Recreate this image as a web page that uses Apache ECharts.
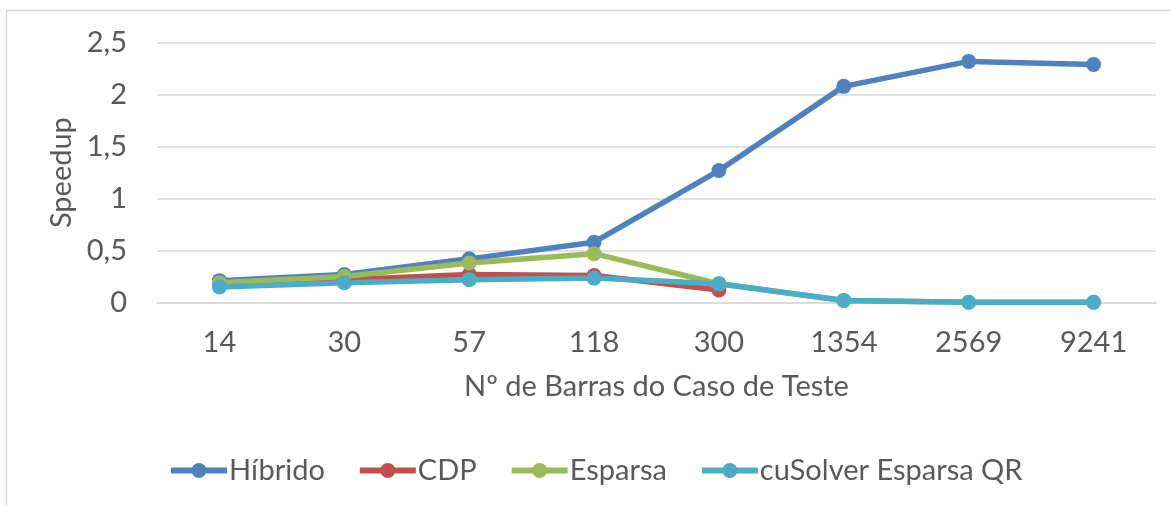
<!DOCTYPE html>
<html>
<head>
<meta charset="utf-8">
<script src="https://cdn.jsdelivr.net/npm/echarts@6/dist/echarts.min.js"></script>
<style>
html,body{margin:0;padding:0;background:#fff;}
#chart{width:1170px;height:506px;}
</style>
</head>
<body>
<div id="chart"></div>
<script>
const categories = ['14', '30', '57', '118', '300', '1354', '2569', '9241'];
const hibrido = [0.21, 0.27, 0.42, 0.58, 1.27, 2.08, 2.32, 2.29];
const cdp = [0.18, 0.22, 0.27, 0.26, 0.12, null, null, null];
const esparsa = [0.19, 0.25, 0.38, 0.47, 0.18, 0.02, 0.003, 0.002];
const cusolver = [0.15, 0.19, 0.22, 0.235, 0.18, 0.02, 0.003, 0.003];
const yTicks = [0, 0.5, 1, 1.5, 2, 2.5];

const FONT = 'Lato';
const TXT = '#595959';
const FS = 29;

function mk(name, data, color) {
  return {
    name: name,
    type: 'line',
    data: data,
    symbol: 'circle',
    symbolSize: 15,
    lineStyle: { width: 5.5, color: color },
    itemStyle: { color: color },
    emphasis: { disabled: true },
    animation: false
  };
}

const chart = echarts.init(document.getElementById('chart'));
chart.setOption({
  backgroundColor: '#fff',
  animation: false,
  textStyle: { fontFamily: FONT },
  graphic: [{
    type: 'polyline',
    shape: { points: [[6.5, 506], [6.5, 10.5], [1170, 10.5]] },
    style: { stroke: '#D9D9D9', lineWidth: 1.5, fill: null }
  }],
  grid: { left: 157, right: 14, top: 42.7, bottom: 203.5 },
  xAxis: {
    type: 'category',
    data: categories,
    boundaryGap: true,
    axisLine: { show: true, lineStyle: { color: '#D9D9D9', width: 1.5 } },
    axisTick: { show: false },
    axisLabel: { color: TXT, fontSize: FS, fontFamily: FONT, margin: 26 },
    name: 'Nº de Barras do Caso de Teste',
    nameLocation: 'middle',
    nameGap: 70,
    nameTextStyle: { color: TXT, fontSize: FS, fontFamily: FONT }
  },
  yAxis: {
    type: 'value',
    min: yTicks[0],
    max: yTicks[yTicks.length - 1],
    interval: 0.5,
    axisLine: { show: false },
    axisTick: { show: false },
    splitLine: { lineStyle: { color: '#D9D9D9', width: 1.5 } },
    axisLabel: {
      color: TXT, fontSize: FS, fontFamily: FONT, margin: 30,
      formatter: function (v) { return String(v).replace('.', ','); }
    },
    name: 'Speedup',
    nameLocation: 'middle',
    nameGap: 78,
    nameRotate: 90,
    nameTextStyle: { color: TXT, fontSize: FS, fontFamily: FONT }
  },
  legend: {
    top: 451,
    left: 163,
    itemWidth: 56,
    itemHeight: 19,
    itemGap: 32,
    lineStyle: { width: 6 },
    textStyle: { color: TXT, fontSize: FS, fontFamily: FONT, padding: [0, 0, 0, -3] },
    data: ['Híbrido', 'CDP', 'Esparsa', 'cuSolver Esparsa QR']
  },
  series: [
    mk('Híbrido', hibrido, '#4F81BD'),
    mk('CDP', cdp, '#C0504D'),
    mk('Esparsa', esparsa, '#9BBB59'),
    mk('cuSolver Esparsa QR', cusolver, '#4BACC6')
  ]
});
</script>
</body>
</html>
